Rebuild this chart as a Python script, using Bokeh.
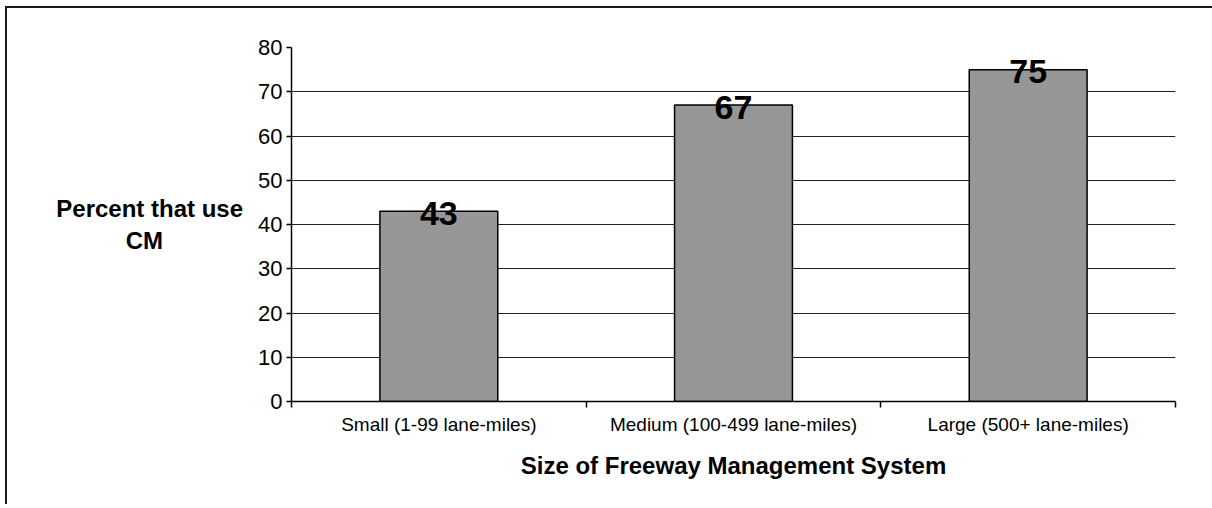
from bokeh.plotting import figure
from bokeh.models import ColumnDataSource, FixedTicker, Range1d
from bokeh.core.properties import value
from bokeh.embed import file_html
from bokeh.resources import INLINE

categories = ["Small (1-99 lane-miles)", "Medium (100-499 lane-miles)", "Large (500+ lane-miles)"]
values = [43, 67, 75]
y_ticks = [0, 10, 20, 30, 40, 50, 60, 70, 80]
x_title = "Size of Freeway Management System"
# second line padded with no-break spaces so it sits centred under the first
y_title = "Percent that use\nCM" + "\u00a0" * 12

FONT = "Liberation Sans"

centers = [i + 0.5 for i in range(len(categories))]
bounds = [float(i) for i in range(len(categories) + 1)]
src = ColumnDataSource(dict(x=centers, value=values, label=[str(v) for v in values]))

p = figure(width=1207, height=498, output_backend="svg", toolbar_location=None,
           x_range=Range1d(0, len(categories)), y_range=Range1d(0, max(y_ticks)),
           min_border_left=284, min_border_right=39, min_border_top=39, min_border_bottom=105)
p.styles = {"border-left": "2px solid #1a1a1a", "border-top": "2px solid #1a1a1a",
            "margin-left": "5px", "margin-top": "6px"}
p.outline_line_color = None
p.background_fill_color = "white"
p.border_fill_color = "white"

p.vbar(x="x", top="value", width=0.4, source=src,
       fill_color="#969696", line_color="black", line_width=1.5)
p.text(x="x", y="value", text="label", source=src, text_align="center", text_baseline="middle",
       text_font=value(FONT), text_font_style="bold", text_font_size="34px", text_color="black",
       y_offset=2)

p.xgrid.visible = False
p.ygrid.ticker = FixedTicker(ticks=y_ticks)
p.ygrid.grid_line_color = "#222222"
p.ygrid.grid_line_width = 1

xa = p.xaxis[0]
xa.ticker = FixedTicker(ticks=centers, minor_ticks=bounds)
xa.major_label_overrides = {c: n for c, n in zip(centers, categories)}
xa.major_tick_line_color = None
xa.major_tick_out = 6
xa.major_tick_in = 0
xa.minor_tick_line_color = "black"
xa.minor_tick_out = 6
xa.minor_tick_in = 0
xa.minor_tick_line_width = 1.5
xa.axis_line_color = "black"
xa.axis_line_width = 1.5
xa.major_label_text_font = FONT
xa.major_label_text_font_size = "19px"
xa.major_label_text_color = "black"
xa.major_label_standoff = 6
xa.axis_label = x_title
xa.axis_label_text_font = FONT
xa.axis_label_text_font_style = "bold"
xa.axis_label_text_font_size = "24px"
xa.axis_label_text_color = "black"
xa.axis_label_standoff = 14

ya = p.yaxis[0]
ya.ticker = FixedTicker(ticks=y_ticks)
ya.major_tick_line_color = "black"
ya.major_tick_line_width = 1.5
ya.major_tick_out = 5
ya.major_tick_in = 0
ya.minor_tick_line_color = None
ya.axis_line_color = "black"
ya.axis_line_width = 1.5
ya.major_label_text_font = FONT
ya.major_label_text_font_size = "22px"
ya.major_label_text_color = "black"
ya.major_label_standoff = 4
ya.axis_label = y_title
ya.axis_label_orientation = "horizontal"
ya.axis_label_text_font = FONT
ya.axis_label_text_font_style = "bold"
ya.axis_label_text_font_size = "24px"
ya.axis_label_text_color = "black"
ya.axis_label_text_line_height = 1.15
ya.axis_label_standoff = 12

open("out.html", "w").write(file_html(p, INLINE))
